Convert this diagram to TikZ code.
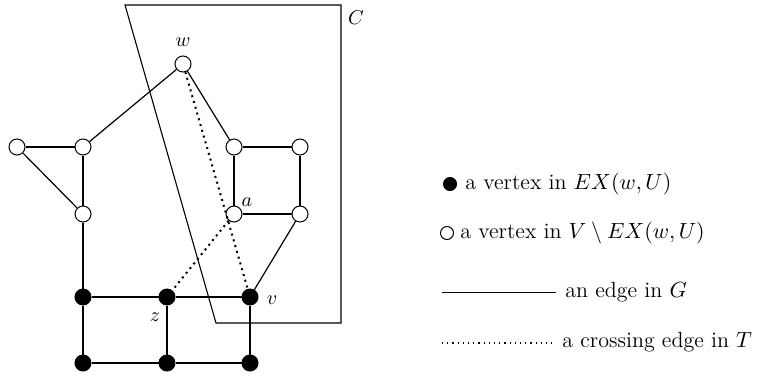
\documentclass[tikz,border=0pt]{standalone}
\begin{document}
\begin{tikzpicture}[x=0.5pt,y=-0.5pt,
  vtx/.style={circle,draw,line width=0.5pt,minimum size=8pt,inner sep=0pt},
  ovtx/.style={vtx,fill=white},
  fvtx/.style={vtx,fill=black},
  edge/.style={line width=0.6pt},
  cross/.style={line width=1pt,dotted},
  lbl/.style={inner sep=0pt},
  leg/.style={anchor=west,inner sep=0pt,font=\fontsize{11}{13}\selectfont}]
\useasboundingbox (0,0) rectangle (764,381);
% region C
\coordinate (c1) at (125,5);
\coordinate (c2) at (341,5);
\coordinate (c3) at (341,323);
\coordinate (c4) at (216,323);
\draw[line width=0.55pt] (c1) -- (c2) -- (c3) -- (c4) -- cycle;
\node[lbl] (lC) at (356,18) {$C$};
% vertices
\node[ovtx] (w) at (183,64) {};
\node[ovtx] (ll) at (17,147) {};
\node[ovtx] (l1) at (83,147) {};
\node[ovtx] (l2) at (83,214) {};
\node[ovtx] (r1) at (234,147) {};
\node[ovtx] (r2) at (300,147) {};
\node[ovtx] (a) at (234,214) {};
\node[ovtx] (r4) at (300,214) {};
\node[fvtx] (b1) at (83,297) {};
\node[fvtx] (z) at (167,297) {};
\node[fvtx] (v) at (250,297) {};
\node[fvtx] (d1) at (83,363) {};
\node[fvtx] (d2) at (167,363) {};
\node[fvtx] (d3) at (250,363) {};
% labels
\node[lbl] (lw) at (183,42) {$w$};
\node[lbl] (la) at (247,202) {$a$};
\node[lbl] (lz) at (155,317) {$z$};
\node[lbl] (lv) at (272,300) {$v$};
% edges
\draw[edge] (ll) -- (l1);
\draw[edge] (ll) -- (l2);
\draw[edge] (l1) -- (w);
\draw[edge] (l1) -- (l2);
\draw[edge] (l2) -- (b1);
\draw[edge] (w) -- (r1);
\draw[edge] (r1) -- (r2);
\draw[edge] (r1) -- (a);
\draw[edge] (r2) -- (r4);
\draw[edge] (a) -- (r4);
\draw[edge] (r4) -- (v);
\draw[edge] (b1) -- (z);
\draw[edge] (z) -- (v);
\draw[edge] (b1) -- (d1);
\draw[edge] (z) -- (d2);
\draw[edge] (v) -- (d3);
\draw[edge] (d1) -- (d2);
\draw[edge] (d2) -- (d3);
% crossing edges
\draw[cross] (w) -- (v);
\draw[cross] (a) -- (z);
% legend
\node[fvtx,minimum size=6.5pt] (k1) at (450,184) {};
\node[leg] (t1) at (465,184) {a vertex in $EX(w,U)$};
\node[vtx,minimum size=6.5pt] (k2) at (447,233) {};
\node[leg] (t2) at (460,233) {a vertex in $V\setminus EX(w,U)$};
\coordinate (e1) at (442,292);
\coordinate (e2) at (556,292);
\draw[line width=0.5pt] (e1) -- (e2);
\node[leg] (t3) at (565,292) {an edge in $G$};
\coordinate (f1) at (442,343);
\coordinate (f2) at (555,343);
\draw[line width=0.6pt,dotted] (f1) -- (f2);
\node[leg] (t4) at (562,342) {a crossing edge in $T$};
\end{tikzpicture}
\end{document}
